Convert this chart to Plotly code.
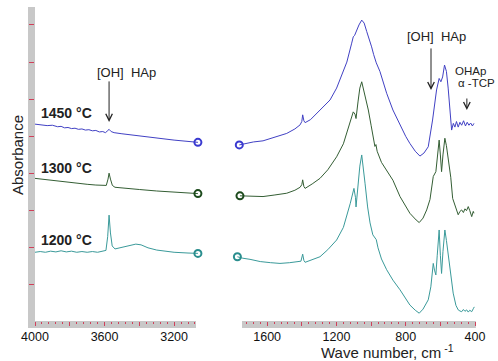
import plotly.graph_objects as go

# ---------------- data (wavenumber cm-1, absorbance offset units) ----------------
# Left panel (4000-3060 cm-1)
wn_1450_L = [4000, 3960, 3930, 3900, 3870, 3850, 3830, 3810, 3790, 3770, 3750, 3730, 3710, 3690,
             3670, 3650, 3630, 3610, 3595, 3585, 3574, 3562, 3545, 3500, 3400, 3300, 3200, 3063]
ab_1450_L = [5.33, 5.31, 5.29, 5.30, 5.26, 5.27, 5.23, 5.24, 5.21, 5.22, 5.19, 5.20, 5.17, 5.18,
             5.15, 5.16, 5.12, 5.13, 5.10, 5.14, 5.19, 5.13, 5.10, 5.07, 5.01, 4.95, 4.90, 4.84]

wn_1300_L = [4000, 3950, 3900, 3850, 3800, 3750, 3700, 3650, 3610, 3590, 3580, 3574, 3566,
             3555, 3540, 3500, 3400, 3300, 3200, 3063]
ab_1300_L = [3.87, 3.84, 3.81, 3.79, 3.76, 3.74, 3.71, 3.69, 3.67, 3.68, 3.85, 4.01, 3.85,
             3.68, 3.63, 3.61, 3.57, 3.53, 3.50, 3.46]

wn_1200_L = [4000, 3970, 3940, 3910, 3880, 3850, 3820, 3790, 3760, 3730, 3700, 3670, 3640,
             3610, 3592, 3582, 3574, 3566, 3556, 3540, 3500, 3460, 3420, 3390, 3350, 3300,
             3250, 3200, 3120, 3063]
ab_1200_L = [1.88, 1.90, 1.88, 1.91, 1.89, 1.92, 1.89, 1.91, 1.88, 1.90, 1.88, 1.90, 1.88,
             1.91, 1.93, 2.30, 2.88, 2.40, 2.05, 1.97, 2.02, 2.07, 2.10, 2.08, 2.00, 1.94,
             1.90, 1.88, 1.86, 1.85]

# Right panel (1770-400 cm-1)
wn_1450_R = [1761, 1720, 1680, 1624, 1560, 1487, 1440, 1410, 1400, 1395, 1388, 1381, 1350, 1314,
             1270, 1237, 1199, 1180, 1140, 1112, 1103, 1095, 1083, 1070, 1054, 1040, 1025, 1010,
             997, 985, 978, 970, 949, 910, 874, 833, 800, 776, 745, 718, 695, 670, 645, 622,
             607, 597, 587, 576, 565, 555, 545, 535, 525, 516, 507, 497, 487, 477, 466, 455,
             445, 435, 425, 415, 406]
ab_1450_R = [4.77, 4.82, 4.85, 4.88, 4.97, 5.08, 5.20, 5.31, 5.40, 5.58, 5.42, 5.37, 5.45, 5.62,
             5.80, 5.98, 6.30, 6.52, 7.00, 7.51, 7.68, 7.72, 7.86, 8.00, 8.13, 8.05, 7.82, 7.62,
             7.41, 7.20, 7.10, 6.98, 6.75, 6.16, 5.71, 5.30, 5.00, 4.81, 4.60, 4.47, 4.55, 4.72,
             5.44, 6.25, 6.56, 6.47, 6.60, 6.92, 6.75, 6.30, 5.70, 5.17, 5.35, 5.25, 5.40, 5.25,
             5.38, 5.30, 5.42, 5.28, 5.38, 5.30, 5.36, 5.28, 5.35]

wn_1300_R = [1757, 1699, 1624, 1560, 1487, 1440, 1410, 1400, 1395, 1388, 1381, 1340, 1295, 1250,
             1199, 1160, 1141, 1120, 1103, 1093, 1087, 1075, 1065, 1054, 1045, 1035, 1016, 1000,
             990, 978, 972, 965, 940, 910, 874, 833, 776, 740, 722, 700, 679, 660, 641, 626,
             618, 607, 600, 593, 585, 574, 565, 555, 540, 529, 510, 497, 487, 477, 467, 458,
             449, 439, 430, 419, 410, 406]
ab_1300_R = [3.40, 3.39, 3.38, 3.42, 3.47, 3.55, 3.63, 3.70, 3.83, 3.65, 3.60, 3.72, 3.87, 4.10,
             4.45, 4.80, 5.08, 5.40, 5.66, 5.60, 5.48, 5.95, 6.30, 6.47, 6.30, 6.07, 5.71, 5.30,
             5.00, 4.73, 4.78, 4.60, 4.30, 4.09, 3.82, 3.38, 2.93, 2.75, 2.68, 2.80, 3.02, 3.30,
             3.92, 4.05, 4.40, 4.90, 4.50, 4.05, 4.50, 4.95, 4.75, 4.45, 3.90, 3.33, 3.05, 2.89,
             2.98, 3.02, 2.95, 3.05, 3.00, 3.11, 3.00, 2.84, 2.98, 2.93]

wn_1200_R = [1772, 1740, 1699, 1640, 1580, 1526, 1470, 1420, 1405, 1395, 1388, 1381, 1340, 1295,
             1250, 1199, 1160, 1141, 1120, 1099, 1090, 1087, 1075, 1065, 1054, 1045, 1035, 1020,
             1006, 990, 978, 970, 960, 940, 910, 874, 833, 800, 776, 745, 722, 700, 670, 655,
             641, 634, 626, 618, 607, 600, 593, 585, 574, 565, 555, 540, 526, 510, 497, 487,
             477, 467, 458, 448, 439, 430, 419, 410, 404]
ab_1200_R = [1.76, 1.72, 1.69, 1.63, 1.60, 1.58, 1.60, 1.63, 1.64, 1.83, 1.66, 1.61, 1.68, 1.76,
             1.95, 2.21, 2.55, 2.84, 3.20, 3.60, 3.35, 3.10, 3.70, 4.20, 4.50, 4.20, 3.74, 3.10,
             2.67, 2.35, 2.28, 2.22, 2.00, 1.70, 1.41, 1.13, 0.87, 0.65, 0.46, 0.32, 0.24, 0.35,
             0.60, 0.95, 1.58, 1.40, 1.27, 1.80, 2.48, 1.80, 1.31, 1.90, 2.48, 2.20, 1.85, 1.25,
             0.78, 0.45, 0.33, 0.30, 0.28, 0.34, 0.29, 0.33, 0.27, 0.32, 0.28, 0.36, 0.41]

series = [
    ("1450 °C", "#4141c4", "#3a3ad0", wn_1450_L, ab_1450_L, wn_1450_R, ab_1450_R, 5.62),
    ("1300 °C", "#345e34", "#1c4a1c", wn_1300_L, ab_1300_L, wn_1300_R, ab_1300_R, 4.15),
    ("1200 °C", "#3a9a9a", "#2a8e8e", wn_1200_L, ab_1200_L, wn_1200_R, ab_1200_R, 2.22),
]

left_ticks = [4000, 3800, 3600, 3400, 3200]
left_labels = ["4000", "", "3600", "", "3200"]
left_minor = [3960, 3920, 3880, 3840, 3760, 3720, 3680, 3640, 3560, 3520, 3480, 3440,
              3360, 3320, 3280, 3240, 3160, 3120, 3080]
right_ticks = [1600, 1400, 1200, 1000, 800, 600, 400]
right_labels = ["1600", "", "1200", "", "800", "", "400"]
right_minor = [1720, 1680, 1640, 1560, 1520, 1480, 1440, 1360, 1320, 1280, 1240, 1160, 1120,
               1080, 1040, 960, 920, 880, 840, 760, 720, 680, 640, 560, 520, 480, 440]

FONT = "Arial, Liberation Sans, sans-serif"
TICKRED = "#d0405a"
BAR = "#c8c8c8"

# pixel layout helpers (plot area: x 35..475, y 6..321)
PW, PH = 440, 315
L_END = 196   # end of left axis bar
R_START = 242  # start of right axis bar

fig = go.Figure()
for name, col, mcol, xl, yl, xr, yr, ylab in series:
    fig.add_trace(go.Scatter(x=xl, y=yl, mode="lines", line=dict(color=col, width=1),
                             xaxis="x", yaxis="y", showlegend=False))
    fig.add_trace(go.Scatter(x=xr, y=yr, mode="lines", line=dict(color=col, width=1),
                             xaxis="x2", yaxis="y", showlegend=False))
    fig.add_trace(go.Scatter(x=[xl[-1]], y=[yl[-1]], mode="markers", cliponaxis=False,
                             marker=dict(symbol="circle-open", size=7, color=mcol,
                                         line=dict(width=2, color=mcol)),
                             xaxis="x", yaxis="y", showlegend=False))
    fig.add_trace(go.Scatter(x=[xr[0]], y=[yr[0]], mode="markers", cliponaxis=False,
                             marker=dict(symbol="circle-open", size=7, color=mcol,
                                         line=dict(width=2, color=mcol)),
                             xaxis="x2", yaxis="y", showlegend=False))
    fig.add_annotation(x=3977, y=ylab, xref="x", yref="y", text="<b>" + name + "</b>",
                       showarrow=False, xanchor="left", yanchor="middle",
                       font=dict(family=FONT, size=14, color="#222222"))

axis_common = dict(showgrid=False, zeroline=False, showline=False,
                   ticks="outside", ticklen=4, tickwidth=1, tickcolor=TICKRED,
                   tickfont=dict(family=FONT, size=12.5, color="#111111"),
                   anchor="y", tickmode="array")
minor_common = dict(ticks="outside", ticklen=2, tickwidth=1, tickcolor=TICKRED,
                    tickmode="array")

fig.update_layout(
    width=498, height=361,
    margin=dict(l=35, r=23, t=6, b=40),
    paper_bgcolor="white", plot_bgcolor="rgba(0,0,0,0)",
    xaxis=dict(domain=[0, (200 - 35) / PW], range=[4000, 3051],
               tickvals=left_ticks, ticktext=left_labels,
               minor=dict(tickvals=left_minor, **minor_common), **axis_common),
    xaxis2=dict(domain=[(236 - 35) / PW, 1], range=[1780, 400],
                tickvals=right_ticks, ticktext=right_labels,
                minor=dict(tickvals=right_minor, **minor_common), **axis_common),
    yaxis=dict(range=[0.03, 8.51], showgrid=False, zeroline=False, showline=False,
               showticklabels=False, ticks="outside", ticklen=5, tickwidth=1,
               tickcolor=TICKRED, tickmode="linear", tick0=0, dtick=1),
)

bh = 7 / PH
bw = 7 / PW
shapes = [
    dict(type="rect", xref="paper", yref="paper", x0=-bw, x1=0, y0=-bh, y1=0.997,
         fillcolor=BAR, line=dict(width=0), layer="below"),
    dict(type="rect", xref="paper", yref="paper", x0=-bw, x1=(L_END - 35) / PW, y0=-bh, y1=0,
         fillcolor=BAR, line=dict(width=0), layer="below"),
    dict(type="rect", xref="paper", yref="paper", x0=(R_START - 35) / PW, x1=1.002, y0=-bh, y1=0,
         fillcolor=BAR, line=dict(width=0), layer="below"),
]
fig.update_layout(shapes=shapes)

txt = dict(family=FONT, color="#222222")
# annotation texts
fig.add_annotation(x=3471, y=6.73, xref="x", yref="y", text="[OH]  HAp", showarrow=False,
                   font=dict(size=13, **txt))
fig.add_annotation(x=3574, y=5.39, xref="x", yref="y", text="", showarrow=True, ax=0, ay=-42,
                   arrowhead=5, arrowsize=1.3, arrowwidth=1, arrowcolor="#222222")
fig.add_annotation(x=620, y=7.70, xref="x2", yref="y", text="[OH]  HAp", showarrow=False,
                   font=dict(size=13, **txt))
fig.add_annotation(x=654, y=6.25, xref="x2", yref="y", text="", showarrow=True, ax=0, ay=-43,
                   arrowhead=5, arrowsize=1.3, arrowwidth=1, arrowcolor="#222222")
fig.add_annotation(x=528, y=6.76, xref="x2", yref="y", text="OHAp", showarrow=False,
                   xanchor="left", font=dict(size=11.5, **txt))
fig.add_annotation(x=512, y=6.44, xref="x2", yref="y", text="α -TCP", showarrow=False,
                   xanchor="left", font=dict(size=11.5, **txt))
fig.add_annotation(x=447, y=5.71, xref="x2", yref="y", text="", showarrow=True, ax=0, ay=-13,
                   arrowhead=5, arrowsize=1.3, arrowwidth=1, arrowcolor="#222222")

# axis titles
fig.add_annotation(x=(387 - 35) / PW, y=-(351 - 321) / PH, xref="paper", yref="paper",
                   text="Wave number, cm<sup> -1</sup>", showarrow=False,
                   xanchor="center", yanchor="middle", font=dict(size=15, **txt))
fig.add_annotation(x=-(35 - 17) / PW, y=(321 - 155) / PH, xref="paper", yref="paper",
                   text="Absorbance", textangle=-90, showarrow=False,
                   xanchor="center", yanchor="middle", font=dict(size=15, **txt))

fig.write_html("out.html", config={"displayModeBar": False},
               post_script="document.body.style.margin='0';document.body.style.padding='0';")
